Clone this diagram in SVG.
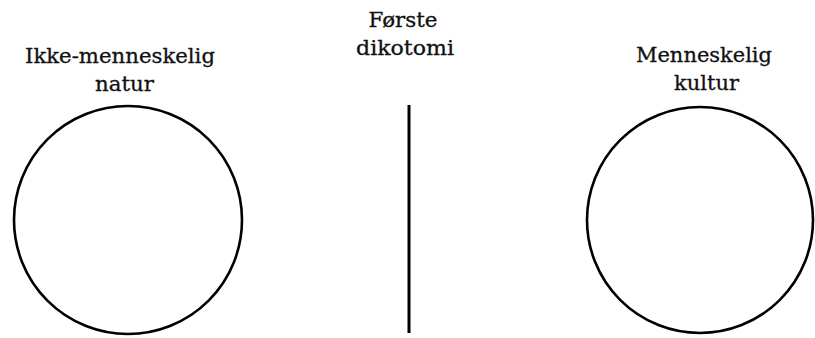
<svg xmlns="http://www.w3.org/2000/svg" width="815" height="338" viewBox="0 0 815 338">
<style>
.lbl{font-family:"DejaVu Serif","Liberation Serif",serif;font-size:20.5px;fill:#111;stroke:#111;stroke-width:0.3;text-anchor:middle}
.ring{fill:none;stroke:#000;stroke-width:2.6}
.div{stroke:#000;stroke-width:3}
</style>
<rect width="815" height="338" fill="#fff"/>
<g id="node-natur">
<circle class="ring" cx="128" cy="220" r="114"/>
<text class="lbl" x="120" y="63" textLength="190" lengthAdjust="spacingAndGlyphs">Ikke-menneskelig</text>
<text class="lbl" x="124.5" y="91" textLength="59" lengthAdjust="spacingAndGlyphs">natur</text>
</g>
<g id="node-dikotomi">
<text class="lbl" x="403" y="27" textLength="69" lengthAdjust="spacingAndGlyphs">Første</text>
<text class="lbl" x="405" y="55" textLength="98" lengthAdjust="spacingAndGlyphs">dikotomi</text>
</g>
<g id="node-kultur">
<circle class="ring" cx="700" cy="220" r="113"/>
<text class="lbl" x="704" y="62" textLength="136" lengthAdjust="spacingAndGlyphs">Menneskelig</text>
<text class="lbl" x="706.5" y="90" textLength="65" lengthAdjust="spacingAndGlyphs">kultur</text>
</g>
<g id="connectors">
<line class="div" x1="409" y1="105" x2="409" y2="333"/>
</g>
</svg>
